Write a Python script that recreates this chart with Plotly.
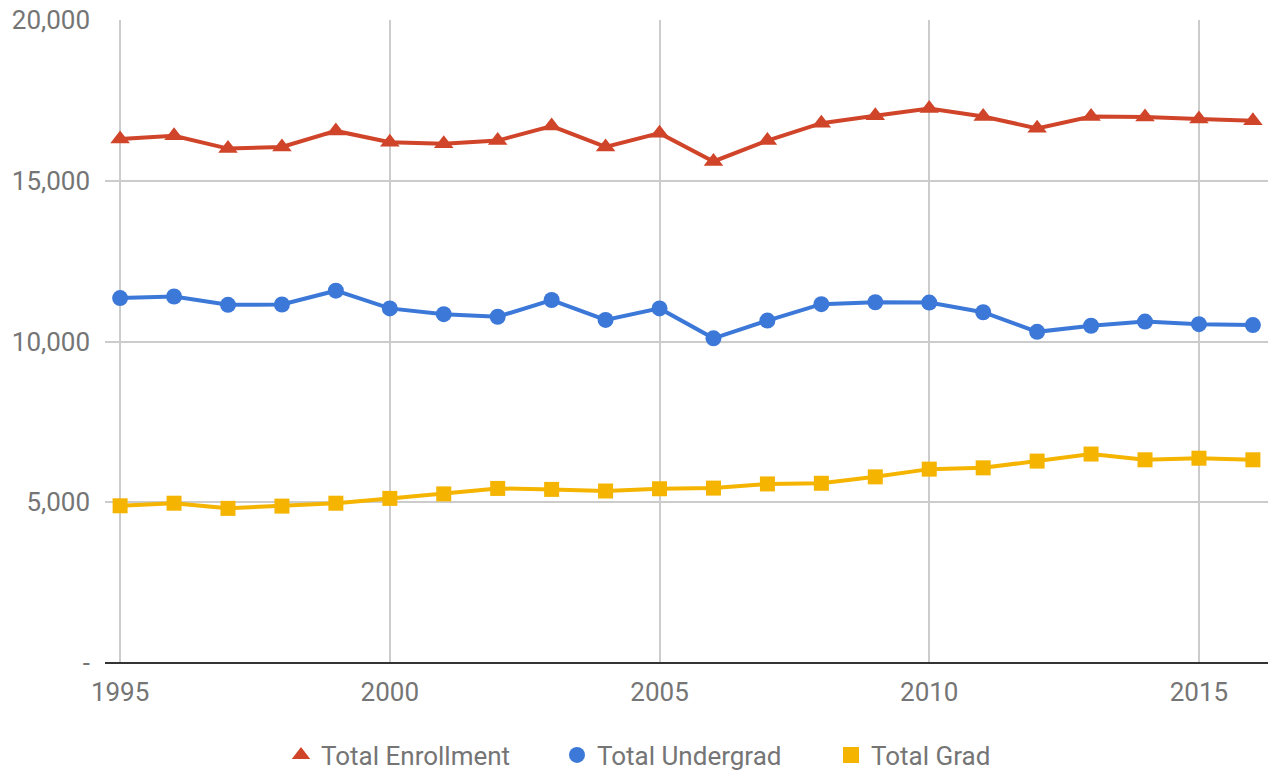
import plotly.graph_objects as go

# Fall enrollment by year
years = list(range(1995, 2017))
total_enrollment = [16300, 16400, 16000, 16050, 16550, 16200, 16150, 16250, 16700, 16050, 16480,
                    15600, 16250, 16790, 17020, 17250, 17000, 16630, 17000, 16980, 16920, 16870]
total_undergrad = [11350, 11400, 11140, 11150, 11580, 11030, 10850, 10770, 11290, 10670, 11030,
                   10100, 10650, 11160, 11220, 11210, 10910, 10300, 10490, 10620, 10540, 10510]
total_grad = [4890, 4970, 4810, 4880, 4970, 5120, 5260, 5430, 5400, 5350, 5420,
              5440, 5570, 5590, 5790, 6030, 6070, 6280, 6500, 6320, 6370, 6320]

series_names = ["Total Enrollment", "Total Undergrad", "Total Grad"]

y_tick_vals = [0, 5000, 10000, 15000, 20000]
y_tick_text = ["-", "5,000", "10,000", "15,000", "20,000"]

RED = "#d0452a"
BLUE = "#3c78d8"
YELLOW = "#f4b400"
LABEL = "#757575"
FONT = "Roboto"

W, H = 1268, 774

styles = [
    (total_enrollment, RED, "triangle-up", 17, "legend"),
    (total_undergrad, BLUE, "circle", 16, "legend2"),
    (total_grad, YELLOW, "square", 15, "legend3"),
]

fig = go.Figure()
for name, (values, color, symbol, size, leg) in zip(series_names, styles):
    # the drawn series (lines + markers)
    fig.add_trace(go.Scatter(
        x=years, y=values, name=name, mode="lines+markers",
        line=dict(color=color, width=4),
        marker=dict(symbol=symbol, size=size, color=color),
        legendgroup=name, showlegend=False,
    ))
    # marker-only legend entry
    fig.add_trace(go.Scatter(
        x=[None], y=[None], name=name, mode="markers",
        marker=dict(symbol=symbol, size=16, color=color),
        legendgroup=name, showlegend=True, legend=leg, hoverinfo="skip",
    ))

legend_common = dict(
    orientation="h", xref="container", yref="container",
    xanchor="left", yanchor="middle", y=(H - 755) / H,
    font=dict(family=FONT, size=26, color=LABEL),
    bgcolor="rgba(0,0,0,0)", borderwidth=0, itemsizing="trace",
)

fig.update_layout(
    width=W, height=H,
    margin=dict(l=105, r=0, t=20, b=111),
    paper_bgcolor="white", plot_bgcolor="white",
    font=dict(family=FONT, size=26, color=LABEL),
    showlegend=True,
    legend=dict(legend_common, x=(301 - 20) / W),
    legend2=dict(legend_common, x=(577 - 20) / W),
    legend3=dict(legend_common, x=(851 - 20) / W),
    xaxis=dict(
        range=[1994.72, 2016.28], tickmode="linear", tick0=1995, dtick=5,
        showgrid=True, gridcolor="#cccccc", gridwidth=2,
        zeroline=False, showline=False, ticks="",
        tickfont=dict(family=FONT, size=26, color=LABEL),
        ticklabelstandoff=11,
    ),
    yaxis=dict(
        range=[0, 20000], tickmode="array", tickvals=y_tick_vals, ticktext=y_tick_text,
        showgrid=True, gridcolor="#cccccc", gridwidth=2,
        zeroline=True, zerolinecolor="#333333", zerolinewidth=2,
        showline=False, ticks="",
        tickfont=dict(family=FONT, size=26, color=LABEL),
        ticklabelstandoff=14,
    ),
)

fig.write_html("out.html")
